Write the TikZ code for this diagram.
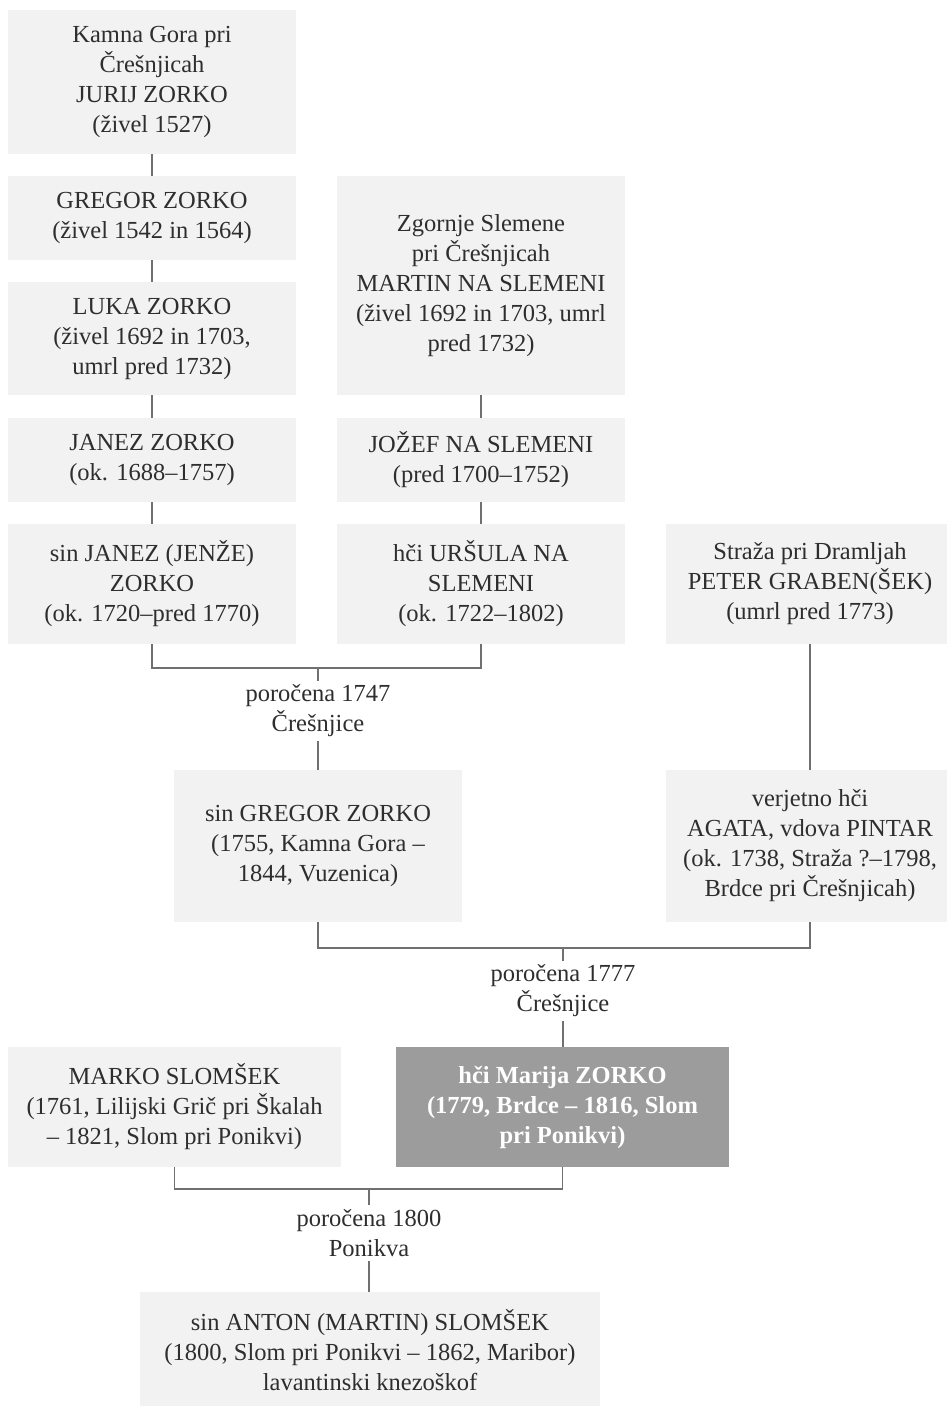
\documentclass[tikz,border=0pt]{standalone}
\usepackage{fontspec}
\setmainfont{Liberation Serif}
\definecolor{boxgray}{HTML}{F2F2F2}
\definecolor{darkbox}{HTML}{9C9C9C}
\definecolor{linegray}{HTML}{707070}
\definecolor{txt}{HTML}{2E2E2E}
\begin{document}
\begin{tikzpicture}[x=1pt,y=-1pt,
  box/.style={fill=boxgray, draw=none, inner sep=0pt, align=center, text=txt,
    font=\fontsize{24.5}{30}\selectfont},
  dbox/.style={box, fill=darkbox, text=white, font=\fontsize{24.5}{30}\selectfont\bfseries},
  lbl/.style={inner xsep=0pt, inner ysep=4pt, align=center, text=txt,
    font=\fontsize{24.5}{30}\selectfont},
  conn/.style={draw=linegray, line width=1.3pt}
]
\useasboundingbox (0,0) rectangle (947,1406);

% column A
\node[box, minimum width=288pt, minimum height=144pt] (A1) at (152,82)
  {Kamna Gora pri\\Črešnjicah\\JURIJ ZORKO\\(živel 1527)};
\node[box, minimum width=288pt, minimum height=84pt] (A2) at (152,218)
  {GREGOR ZORKO\\(živel 1542 in 1564)};
\node[box, minimum width=288pt, minimum height=113pt] (A3) at (152,338.5)
  {LUKA ZORKO\\(živel 1692 in 1703,\\umrl pred 1732)};
\node[box, minimum width=288pt, minimum height=84pt] (A4) at (152,460)
  {JANEZ ZORKO\\(ok. 1688–1757)};
\node[box, minimum width=288pt, minimum height=120pt] (A5) at (152,584)
  {sin JANEZ (JENŽE)\\ZORKO\\(ok. 1720–pred 1770)};

% column B
\node[box, minimum width=288pt, minimum height=219pt] (B1) at (481,285.5)
  {Zgornje Slemene\\pri Črešnjicah\\MARTIN NA SLEMENI\\(živel 1692 in 1703, umrl\\pred 1732)};
\node[box, minimum width=288pt, minimum height=84pt] (B2) at (481,460)
  {JOŽEF NA SLEMENI\\(pred 1700–1752)};
\node[box, minimum width=288pt, minimum height=120pt] (B3) at (481,584)
  {hči URŠULA NA\\SLEMENI\\(ok. 1722–1802)};

% column C
\node[box, minimum width=288pt, minimum height=120pt] (C1) at (810,584)
  {Straža pri Dramljah\\PETER GRABEN(ŠEK)\\(umrl pred 1773)};
\node[box, minimum width=288pt, minimum height=152pt] (C2) at (810,846)
  {verjetno hči\\AGATA, vdova PINTAR\\(ok. 1738, Straža ?–1798,\\Brdce pri Črešnjicah)};

% generation G
\node[box, minimum width=288pt, minimum height=152pt] (G) at (318,846)
  {sin GREGOR ZORKO\\(1755, Kamna Gora –\\1844, Vuzenica)};

% row 7
\node[box, minimum width=333pt, minimum height=120pt] (MS) at (174.5,1107)
  {MARKO SLOMŠEK\\(1761, Lilijski Grič pri Škalah\\– 1821, Slom pri Ponikvi)};
\node[dbox, minimum width=333pt, minimum height=120pt] (MZ) at (562.5,1107)
  {hči Marija ZORKO\\(1779, Brdce – 1816, Slom\\pri Ponikvi)};

% bottom
\node[box, minimum width=460pt, minimum height=116pt] (AS) at (370,1350)
  {sin ANTON (MARTIN) SLOMŠEK\\(1800, Slom pri Ponikvi – 1862, Maribor)\\lavantinski knezoškof};

% marriage labels
\coordinate (m1) at (318,668);
\coordinate (m2) at (563,948);
\coordinate (m3) at (369,1189);
\node[lbl] (L1) at (318,711) {poročena 1747\\Črešnjice};
\node[lbl] (L2) at (563,991) {poročena 1777\\Črešnjice};
\node[lbl] (L3) at (369,1233) {poročena 1800\\Ponikva};

% connectors
\draw[conn] (A1) -- (A2);
\draw[conn] (A2) -- (A3);
\draw[conn] (A3) -- (A4);
\draw[conn] (A4) -- (A5);
\draw[conn] (B1) -- (B2);
\draw[conn] (B2) -- (B3);
\draw[conn] (C1) -- (C2);

\draw[conn] (A5.south) |- (m1) -| (B3.south);
\draw[conn] (m1) -- (L1.north);
\draw[conn] (L1.south) -- (G.north);

\draw[conn] (G.south) |- (m2) -| (C2.south);
\draw[conn] (m2) -- (L2.north);
\draw[conn] (L2.south) -- (L2.south |- MZ.north);

\draw[conn] (MS.south) |- (m3) -| (MZ.south);
\draw[conn] (m3) -- (L3.north);
\draw[conn] (L3.south) -- (L3.south |- AS.north);
\end{tikzpicture}
\end{document}
